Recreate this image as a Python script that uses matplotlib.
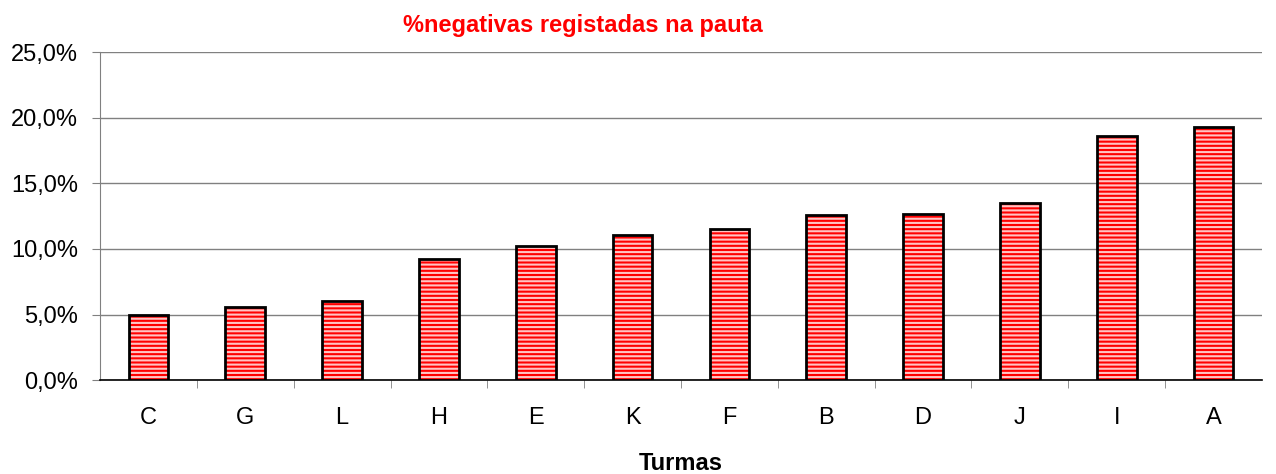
import matplotlib.pyplot as plt
from matplotlib.ticker import FuncFormatter

plt.rcParams['font.family'] = ['Liberation Sans', 'DejaVu Sans']
plt.rcParams['hatch.linewidth'] = 1.5

turmas = ["C", "G", "L", "H", "E", "K", "F", "B", "D", "J", "I", "A"]
negativas = [5.0, 5.6, 6.0, 9.2, 10.2, 11.1, 11.5, 12.6, 12.7, 13.5, 18.6, 19.3]

fig = plt.figure(figsize=(12.76, 4.74), dpi=100)
ax = fig.add_axes([0.0784, 0.198, 0.9106, 0.692])

x = range(len(turmas))
ax.bar(x, negativas, width=0.41, color="#ff0000", edgecolor="#ffc4c4",
       hatch="----", linewidth=0, zorder=3)
ax.bar(x, negativas, width=0.41, fill=False, edgecolor="black",
       linewidth=2, zorder=4)

ax.set_xlim(-0.5, len(turmas) - 0.5)
ax.set_ylim(0, 25)
ax.set_yticks([0, 5, 10, 15, 20, 25])
ax.yaxis.set_major_formatter(FuncFormatter(lambda v, p: f"{v:.1f}%".replace(".", ",")))
ax.set_xticks([i + 0.5 for i in range(len(turmas) - 1)], minor=True)
ax.set_xticks(list(x))
ax.set_xticklabels(turmas)
ax.tick_params(axis="x", which="major", length=0, pad=19, labelsize=17)
ax.tick_params(axis="x", which="minor", length=6, color="#808080", direction="out")
ax.tick_params(axis="y", length=6, color="#808080", direction="out", labelsize=17, pad=10)

ax.grid(axis="y", color="#808080", linewidth=1, zorder=0)
for side in ["top", "right"]:
    ax.spines[side].set_visible(False)
ax.spines["left"].set_color("#808080")
ax.spines["bottom"].set_color("black")
ax.spines["bottom"].set_linewidth(1.2)

fig.text(0.457, 0.947, "%negativas registadas na pauta", color="red",
         fontsize=17, fontweight="bold", ha="center", va="center")
ax.set_xlabel("Turmas", fontsize=17, fontweight="bold", labelpad=17)

fig.savefig("out.png", dpi=100)
